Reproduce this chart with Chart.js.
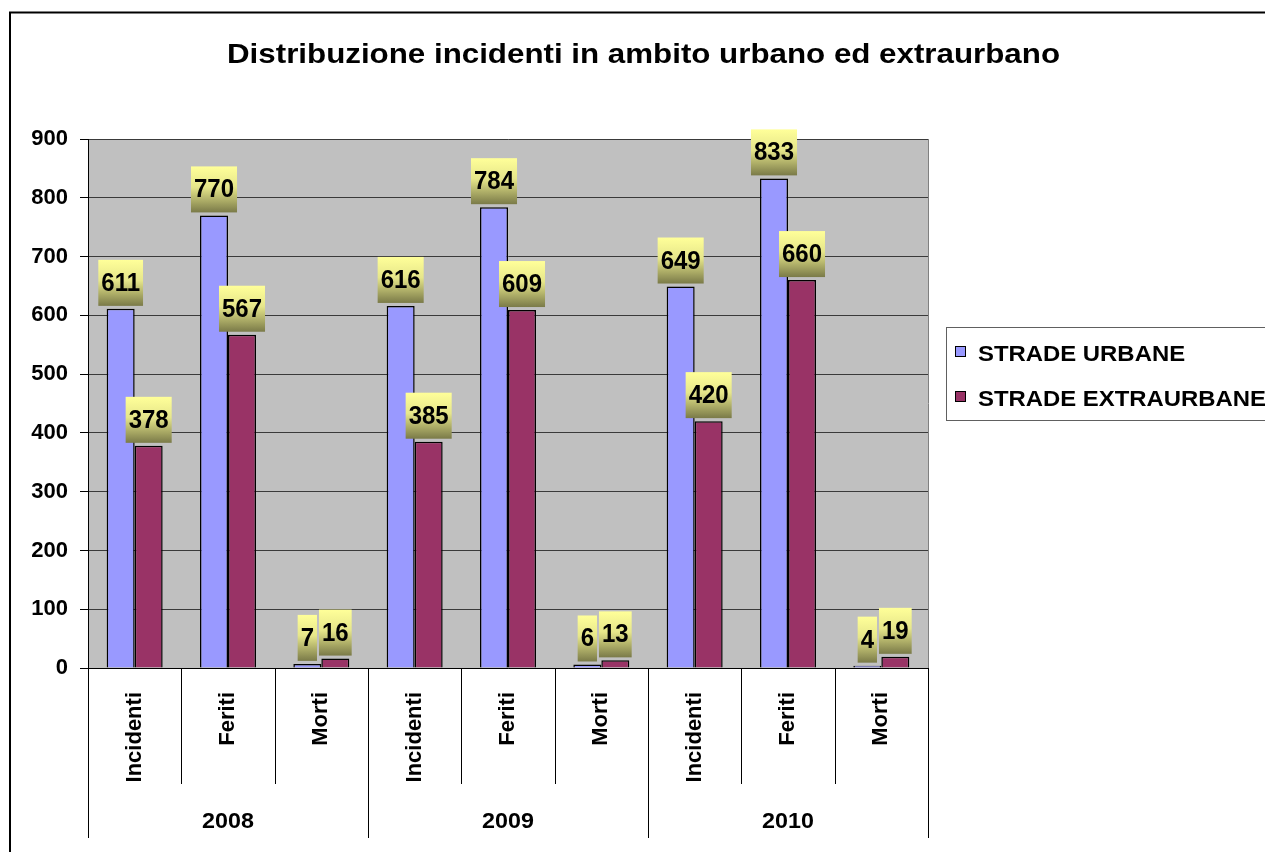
<!DOCTYPE html>
<html><head><meta charset="utf-8">
<script src="https://cdn.jsdelivr.net/npm/chart.js@4.4.1/dist/chart.umd.min.js"></script>
<style>html,body{margin:0;padding:0;background:#fff;overflow:hidden}#wrap{width:1265px;height:852px;position:relative}canvas{display:block}</style>
</head><body><div id="wrap"><canvas id="c" width="1265" height="852"></canvas></div>
<script>
const chartTitle = 'Distribuzione incidenti in ambito urbano ed extraurbano';
const categories = ['Incidenti','Feriti','Morti','Incidenti','Feriti','Morti','Incidenti','Feriti','Morti'];
const years = ['2008','2009','2010'];
const seriesNames = ['STRADE URBANE','STRADE EXTRAURBANE'];
const urbane = [611,770,7,616,784,6,649,833,4];
const extraurbane = [378,567,16,385,609,13,420,660,19];
const yMin = 0, yMax = 900, yStep = 100;
const colors = ['#9999FF','#993366'];

const FONT = '"Liberation Sans", Arial, Helvetica, sans-serif';

function stretchedText(ctx, txt, x, y, targetW, align) {
  const w = ctx.measureText(txt).width;
  const sx = targetW / w;
  ctx.save();
  ctx.translate(x, y);
  ctx.scale(sx, 1);
  ctx.textAlign = align;
  ctx.fillText(txt, 0, 0);
  ctx.restore();
}

const decor = {
  id: 'decor',
  beforeDraw(chart) {
    const ctx = chart.ctx, a = chart.chartArea;
    ctx.save();
    ctx.fillStyle = '#fff';
    ctx.fillRect(0, 0, chart.width, chart.height);
    ctx.fillStyle = '#C0C0C0';
    ctx.fillRect(a.left, a.top, a.right - a.left, a.bottom - a.top);
    ctx.restore();
  },
  afterDatasetsDraw(chart) {
    const ctx = chart.ctx;
    ctx.save();
    ctx.font = 'bold 24px ' + FONT;
    chart.data.datasets.forEach((ds, di) => {
      const meta = chart.getDatasetMeta(di);
      meta.data.forEach((el, i) => {
        const txt = String(ds.data[i]);
        const w = ctx.measureText(txt).width + 6;
        const h = 46;
        const bx = el.x - w / 2, by = el.y - 3 - h;
        const g = ctx.createLinearGradient(0, by, 0, by + h);
        g.addColorStop(0, '#FFFF99');
        g.addColorStop(0.45, '#E6E68A');
        g.addColorStop(1, '#7A7A48');
        ctx.fillStyle = g;
        ctx.fillRect(bx, by, w, h);
        ctx.fillStyle = '#000';
        ctx.textAlign = 'center';
        ctx.textBaseline = 'middle';
        ctx.save();
        ctx.translate(el.x, by + h / 2 + 1);
        ctx.scale(1, 1.06);
        ctx.fillText(txt, 0, 0);
        ctx.restore();
      });
    });
    ctx.restore();
  },
  afterDraw(chart) {
    const ctx = chart.ctx, a = chart.chartArea, xs = chart.scales.x;
    ctx.save();
    // outer border
    ctx.strokeStyle = '#000';
    ctx.lineWidth = 2;
    ctx.beginPath();
    ctx.moveTo(10, 852); ctx.lineTo(10, 12.5); ctx.lineTo(1265, 12.5);
    ctx.stroke();
    // plot right border
    ctx.strokeStyle = '#808080';
    ctx.lineWidth = 1;
    ctx.beginPath();
    ctx.moveTo(Math.round(a.right) + 0.5, a.top); ctx.lineTo(Math.round(a.right) + 0.5, a.bottom);
    ctx.stroke();
    // title
    ctx.fillStyle = '#000';
    ctx.font = 'bold 28px ' + FONT;
    ctx.textBaseline = 'alphabetic';
    stretchedText(ctx, chartTitle, 227, 63, 833, 'left');
    // category separators
    const n = categories.length;
    const catW = (xs.right - xs.left) / n;
    ctx.strokeStyle = '#000';
    ctx.lineWidth = 1;
    for (let i = 0; i <= n; i++) {
      const x = Math.round(xs.left + i * catW) + 0.5;
      ctx.beginPath();
      ctx.moveTo(x, a.bottom);
      ctx.lineTo(x, i % 3 === 0 ? 838 : 784);
      ctx.stroke();
    }
    // year labels
    ctx.font = 'bold 22px ' + FONT;
    years.forEach((y, gi) => {
      const cx = xs.left + (gi * 3 + 1.5) * catW;
      const w = ctx.measureText(y).width;
      stretchedText(ctx, y, cx, 828, w * 1.06, 'center');
    });
    // legend
    ctx.strokeStyle = '#606060';
    ctx.lineWidth = 1;
    ctx.strokeRect(946.5, 327.5, 330, 93);
    ctx.font = 'bold 22px ' + FONT;
    const rows = [361, 406];
    seriesNames.forEach((s, i) => {
      ctx.fillStyle = colors[i];
      ctx.fillRect(955, rows[i] - 15, 11, 11);
      ctx.strokeStyle = '#000';
      ctx.strokeRect(955.5, rows[i] - 14.5, 10, 10);
      ctx.fillStyle = '#000';
      const w = ctx.measureText(s).width;
      stretchedText(ctx, s, 978, rows[i], w * 1.086, 'left');
    });
    ctx.restore();
  }
};

new Chart(document.getElementById('c'), {
  type: 'bar',
  data: {
    labels: categories,
    datasets: [
      { label: seriesNames[0], data: urbane, backgroundColor: colors[0], borderColor: '#000', borderWidth: 1.5 },
      { label: seriesNames[1], data: extraurbane, backgroundColor: colors[1], borderColor: '#000', borderWidth: 1.5 }
    ]
  },
  options: {
    responsive: false,
    devicePixelRatio: 1,
    animation: false,
    categoryPercentage: 0.6,
    barPercentage: 1.0,
    layout: { padding: { left: 0, right: 337, top: 139, bottom: 0 } },
    plugins: { legend: { display: false }, title: { display: false }, tooltip: { enabled: false } },
    scales: {
      x: {
        offset: true,
        grid: { display: false },
        border: { display: true, color: '#000', width: 1 },
        ticks: {
          color: '#000', font: { family: FONT, size: 22, weight: 'bold' },
          minRotation: 90, maxRotation: 90, padding: 16, autoSkip: false
        },
        afterFit(scale) { scale.height = 184; }
      },
      y: {
        min: yMin, max: yMax,
        grid: { color: '#3a3a3a', lineWidth: 1, tickLength: 8, tickColor: '#000' },
        border: { display: true, color: '#000', width: 1 },
        ticks: {
          stepSize: yStep, color: '#000', padding: 12,
          font: { family: FONT, size: 22, weight: 'bold' }
        },
        afterFit(scale) { scale.width = 88; }
      }
    }
  },
  plugins: [decor]
});
</script>
</body></html>
